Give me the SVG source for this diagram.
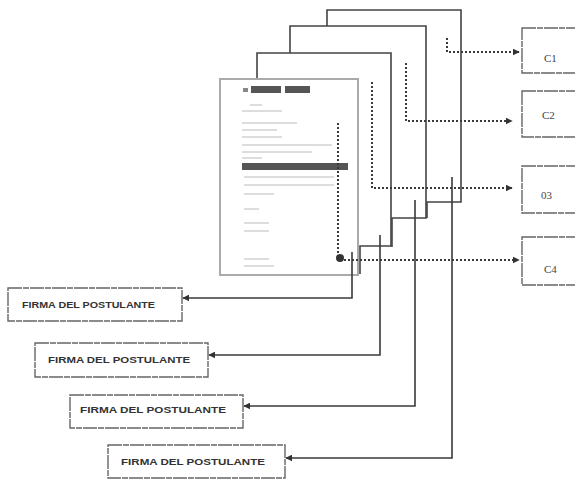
<svg xmlns="http://www.w3.org/2000/svg" width="575" height="479" viewBox="0 0 575 479">
<style>
.page{fill:none;stroke:#444;stroke-width:1.6}
.front{fill:#fff;stroke:#aaa;stroke-width:2}
.solid{fill:none;stroke:#3a3a3a;stroke-width:1.6}
.dot{fill:none;stroke:#3a3a3a;stroke-width:2;stroke-dasharray:2 2}
.box{fill:#fff;stroke:#666;stroke-width:1.4;stroke-dasharray:14 1 6 1}
.lbl{font-family:"Liberation Sans",Arial,sans-serif;font-size:8.5px;font-weight:bold;fill:#333}
.cl{font-family:"Liberation Serif",serif;font-size:11px;fill:#444}
.tl{fill:#ddd}
</style>
<defs>
<marker id="ah" viewBox="0 0 10 10" refX="9" refY="5" markerWidth="7" markerHeight="7" markerUnits="userSpaceOnUse" orient="auto">
<path d="M0,0 L10,5 L0,10 z" fill="#333"/>
</marker>
</defs>
<g id="pages">
<path class="page" d="M327,26 V10 H461 V202 H427 V218"/>
<path class="page" d="M290,53 V26 H426 V218 H392 V247"/>
<path class="page" d="M257,79 V53 H391 V246 H360 V274"/>
<g id="front-page">
<rect class="front" x="220" y="79" width="138" height="196"/>
<rect x="243" y="88" width="5" height="4" fill="#888"/>
<rect x="251" y="86" width="30" height="7" fill="#555"/>
<rect x="285" y="86" width="25" height="7" fill="#555"/>
<rect class="tl" x="250" y="104" width="12" height="2"/>
<rect class="tl" x="242" y="110" width="40" height="2"/>
<rect class="tl" x="242" y="122" width="55" height="2"/>
<rect class="tl" x="242" y="129" width="35" height="2"/>
<rect class="tl" x="242" y="136" width="40" height="2"/>
<rect class="tl" x="242" y="144" width="90" height="2"/>
<rect class="tl" x="242" y="151" width="70" height="2"/>
<rect class="tl" x="242" y="157" width="20" height="2"/>
<rect x="242" y="163" width="106" height="7" fill="#555"/>
<rect class="tl" x="244" y="176" width="90" height="2"/>
<rect class="tl" x="244" y="184" width="90" height="2"/>
<rect class="tl" x="244" y="193" width="30" height="2"/>
<rect class="tl" x="244" y="208" width="15" height="2"/>
<rect class="tl" x="244" y="222" width="25" height="2"/>
<rect class="tl" x="244" y="230" width="25" height="2"/>
<rect class="tl" x="244" y="258" width="25" height="2"/>
<rect class="tl" x="244" y="265" width="30" height="2"/>
</g>
</g>
<g id="connectors">
<path class="dot" d="M447,38 V52 H519" marker-end="url(#ah)"/>
<path class="dot" d="M406,63 V121 H512" marker-end="url(#ah)"/>
<path class="dot" d="M372,82 V188 H512" marker-end="url(#ah)"/>
<path class="dot" d="M338,123 V256"/>
<circle cx="340" cy="258" r="4" fill="#333"/>
<path class="dot" d="M344,260 H519" marker-end="url(#ah)"/>
<path class="solid" d="M352,252 V298 H183" marker-end="url(#ah)"/>
<path class="solid" d="M380,235 V355 H209" marker-end="url(#ah)"/>
<path class="solid" d="M415,200 V406 H244" marker-end="url(#ah)"/>
<path class="solid" d="M452,177 V458 H286" marker-end="url(#ah)"/>
</g>
<g id="c1"><rect class="box" x="522" y="28" width="60" height="45"/><text class="cl" x="544" y="62">C1</text></g>
<g id="c2"><rect class="box" x="522" y="91" width="60" height="46"/><text class="cl" x="542" y="119">C2</text></g>
<g id="c3"><rect class="box" x="522" y="166" width="60" height="47"/><text class="cl" x="541" y="199">03</text></g>
<g id="c4"><rect class="box" x="522" y="237" width="60" height="48"/><text class="cl" x="544" y="273">C4</text></g>
<g id="f1"><rect class="box" x="8" y="288" width="174" height="33"/><text class="lbl" x="22" y="308" textLength="133" lengthAdjust="spacingAndGlyphs">FIRMA DEL POSTULANTE</text></g>
<g id="f2"><rect class="box" x="35" y="343" width="173" height="34"/><text class="lbl" x="48" y="363" textLength="142" lengthAdjust="spacingAndGlyphs">FIRMA DEL POSTULANTE</text></g>
<g id="f3"><rect class="box" x="70" y="395" width="173" height="33"/><text class="lbl" x="80" y="413" textLength="146" lengthAdjust="spacingAndGlyphs">FIRMA DEL POSTULANTE</text></g>
<g id="f4"><rect class="box" x="108" y="445" width="177" height="33"/><text class="lbl" x="121" y="465" textLength="144" lengthAdjust="spacingAndGlyphs">FIRMA DEL POSTULANTE</text></g>
</svg>
